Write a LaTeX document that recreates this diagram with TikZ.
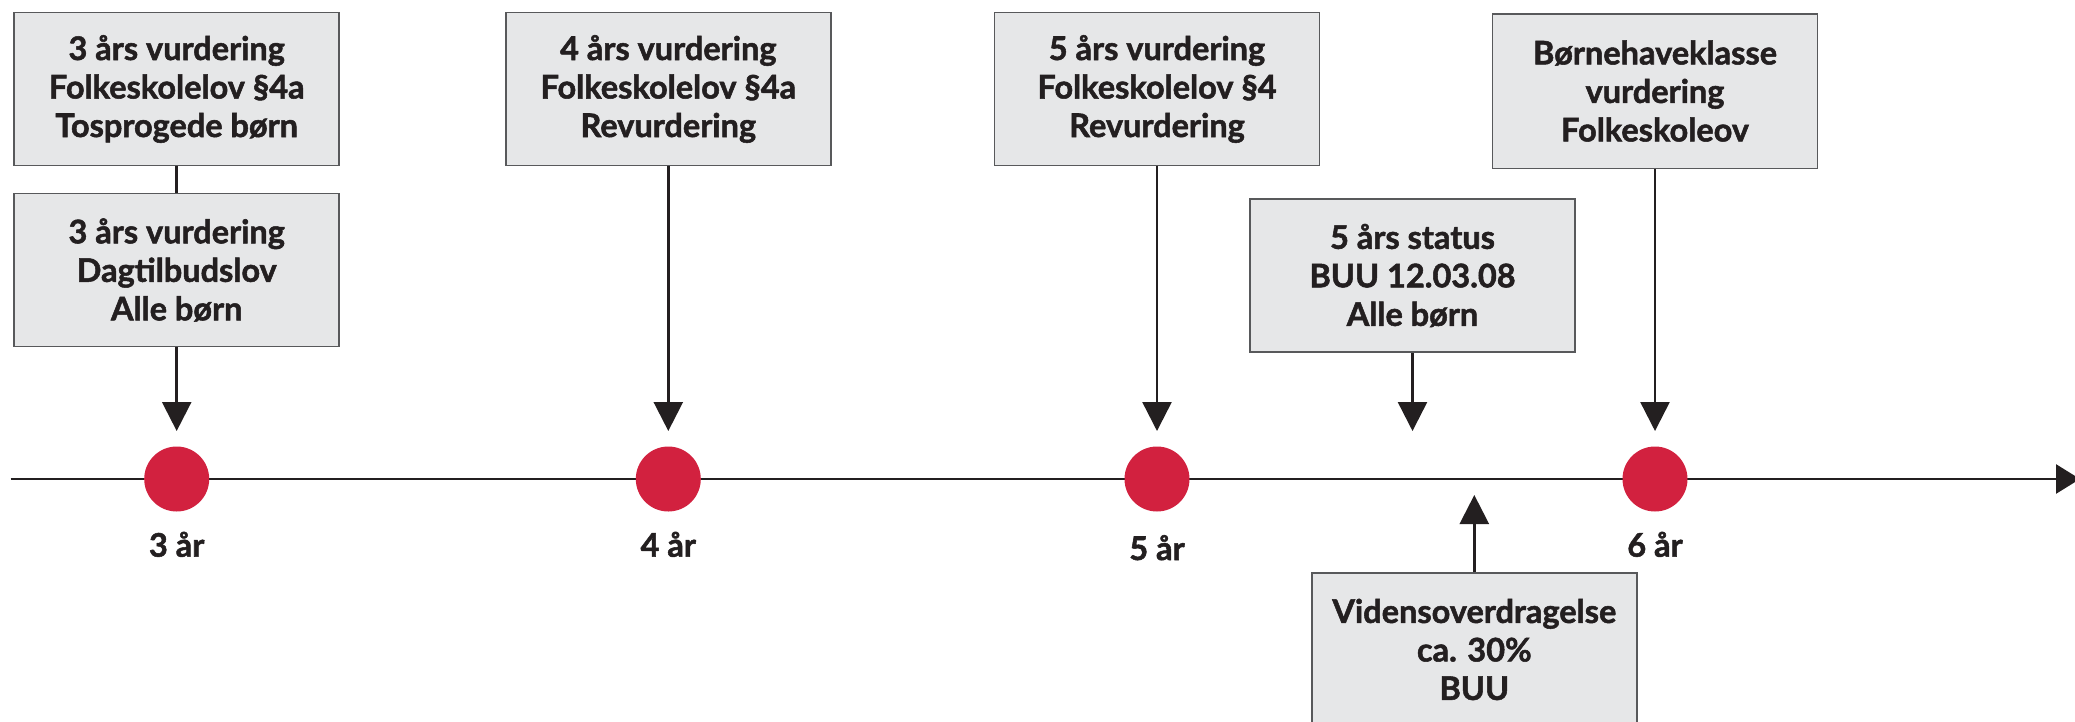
\documentclass[tikz,border=0pt]{standalone}
\usepackage{fontspec}
\setmainfont{Lato}[BoldFeatures={FakeBold=1.6}]
\usetikzlibrary{arrows.meta}
\definecolor{boxfill}{HTML}{E6E7E8}
\definecolor{boxline}{HTML}{58595B}
\definecolor{ink}{HTML}{231F20}
\definecolor{dotred}{HTML}{D2213F}
\begin{document}
\begin{tikzpicture}[x=1pt,y=-1pt,
  infobox/.style={draw=boxline, line width=1.5pt, fill=boxfill,
    minimum width=325pt, minimum height=153pt, align=center,
    font=\fontsize{32.5}{38.5}\selectfont\bfseries, text=ink, inner sep=0pt},
  agedot/.style={circle, fill=dotred, minimum size=65pt, inner sep=0pt},
  agelabel/.style={font=\fontsize{32.5}{38.5}\selectfont\bfseries, text=ink, anchor=base},
  pointer/.style={draw=ink, line width=2.5pt, -{Triangle[length=29pt,width=29pt]}},
  timeline/.style={draw=ink, line width=2.7pt, -{Triangle[length=24pt,width=29pt]}}
]
\useasboundingbox (0,0) rectangle (2075,721);
% timeline
\coordinate (tl0) at (10.7,479);
\coordinate (tl1) at (2080,479);
\draw[timeline] (tl0) -- (tl1);
% boxes
\node[infobox] (b1) at (176.7,89) {3 års vurdering\\Folkeskolelov §4a\\Tosprogede børn};
\node[infobox] (b2) at (176.7,270) {3 års vurdering\\Dagtilbudslov\\Alle børn};
\node[infobox] (b4) at (668.3,89) {4 års vurdering\\Folkeskolelov §4a\\Revurdering};
\node[infobox] (b5) at (1157,89) {5 års vurdering\\Folkeskolelov §4\\Revurdering};
\node[infobox] (bs) at (1412.5,275.5) {5 års status\\BUU 12.03.08\\Alle børn};
\node[infobox, minimum height=154.5pt] (bb) at (1655,91) {Børnehaveklasse\\vurdering\\Folkeskoleov};
\node[infobox] (bv) at (1474.3,649.5) {Vidensoverdragelse\\ca. 30\%\\BUU};
% dots
\node[agedot] (d3) at (176.7,479) {};
\node[agedot] (d4) at (668.3,479) {};
\node[agedot] (d5) at (1157,479) {};
\node[agedot] (d6) at (1655,479) {};
% arrow tips
\coordinate (t3) at (176.7,431);
\coordinate (t4) at (668.3,431);
\coordinate (t5) at (1157,431);
\coordinate (ts) at (1412.5,431);
\coordinate (t6) at (1655,431);
\coordinate (tv) at (1474.3,495);
% connectors
\draw[draw=ink, line width=2.5pt] (b1.south) -- (b2.north);
\draw[pointer] (b2.south) -- (t3);
\draw[pointer] (b4.south) -- (t4);
\draw[pointer] (b5.south) -- (t5);
\draw[pointer] (bs.south) -- (ts);
\draw[pointer] (bb.south) -- (t6);
\draw[pointer] (bv.north) -- (tv);
% labels
\node[agelabel] (l3) at (176.7,556.7) {3 år};
\node[agelabel] (l4) at (668.3,556.7) {4 år};
\node[agelabel] (l5) at (1157,560) {5 år};
\node[agelabel] (l6) at (1655,556.7) {6 år};
\end{tikzpicture}
\end{document}
